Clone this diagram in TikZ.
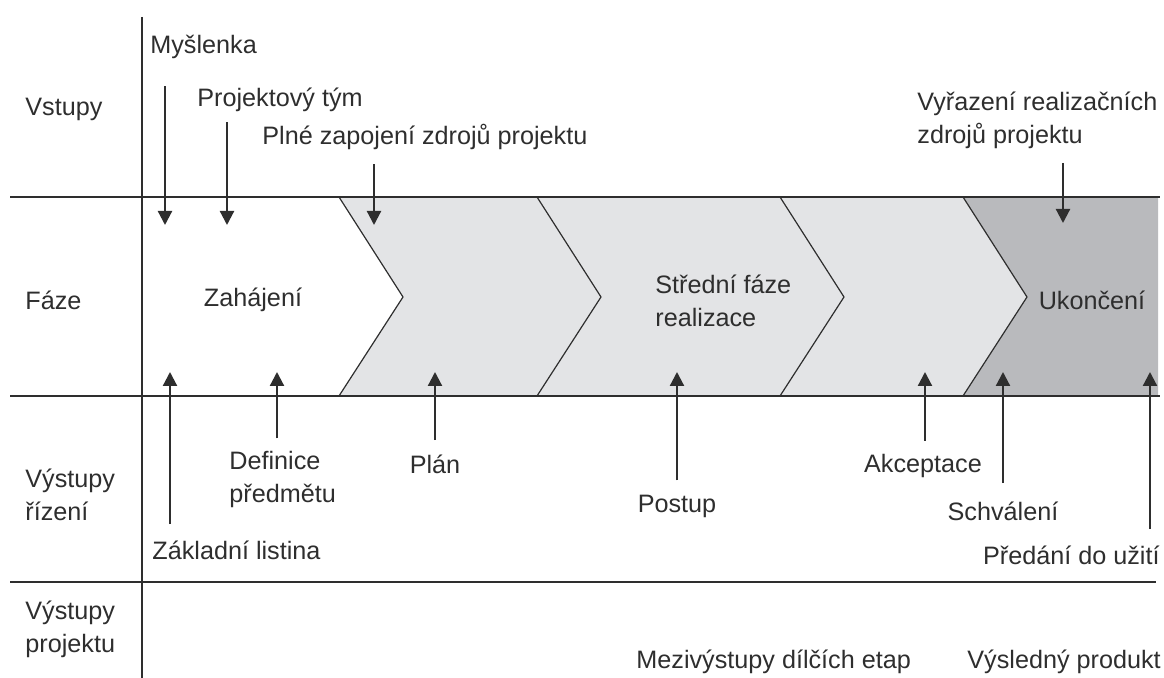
\documentclass[tikz,border=0pt]{standalone}
\usepackage{fontspec}
\setmainfont{Liberation Sans}
\usetikzlibrary{arrows.meta}

\definecolor{inkgray}{HTML}{2E2E2E}
\definecolor{phaselight}{HTML}{E3E4E6}
\definecolor{phasedark}{HTML}{B9BABD}

\begin{document}
\begin{tikzpicture}[x=0.5pt, y=-0.5pt,
		labeltext/.style={anchor=west, inner sep=0pt, align=left, text=inkgray, font=\fontsize{12.6}{16.5}\selectfont},
		centertext/.style={labeltext, anchor=center, align=center},
		mainline/.style={draw=inkgray, line width=1pt},
		chevedge/.style={draw=inkgray, line width=0.6pt},
		flow/.style={-{Triangle[width=7pt, length=7pt]}, draw=inkgray, line width=1.1pt}
	]
		\useasboundingbox (0,0) rectangle (1164,678);

		% phase band
		\fill[phaselight] (339,197) -- (963,197) -- (1027,297) -- (963,396) -- (339,396) -- (403,297) -- cycle;
		\fill[phasedark] (963,197) -- (1158,197) -- (1158,396) -- (963,396) -- (1027,297) -- cycle;
		\foreach \x in {339, 537, 780, 963}
			\draw[chevedge] (\x,197) -- (\x+64,297) -- (\x,396);

		% grid lines
		\draw[mainline] (10,197) -- (1160,197);
		\draw[mainline] (10,396) -- (1160,396);
		\draw[mainline] (10,582) -- (1156,582);
		\draw[mainline] (142,17) -- (142,678);

		% row titles
		\node[labeltext] (rowin) at (25,109) {Vstupy};
		\node[labeltext] (rowphase) at (25,300) {Fáze};
		\node[labeltext] (rowctrl) at (25,495) {Výstupy\\řízení};
		\node[labeltext] (rowprod) at (25,629) {Výstupy\\projektu};

		% phases
		\node[centertext] (start) at (253,300) {Zahájení};
		\node[labeltext] (middle) at (655,301) {Střední fáze\\realizace};
		\node[centertext] (finish) at (1092,300) {Ukončení};

		% inputs
		\node[labeltext] (idea) at (150,47) {Myšlenka};
		\node[labeltext] (team) at (197,100) {Projektový tým};
		\node[labeltext] (full) at (262,137) {Plné zapojení zdrojů projektu};
		\node[labeltext] (retire) at (917,120) {Vyřazení realizačních\\zdrojů projektu};
		\coordinate (ideain) at (165,225);
		\coordinate (teamin) at (227,225);
		\coordinate (fullin) at (374,225);
		\coordinate (retirein) at (1063,223);
		\draw[flow, shorten <=13.5pt] (idea.south -| ideain) -- (ideain);
		\draw[flow, shorten <=5pt] (team.south -| teamin) -- (teamin);
		\draw[flow, shorten <=7pt] (full.south -| fullin) -- (fullin);
		\draw[flow, shorten <=7pt] (retire.south -| retirein) -- (retirein);

		% control outputs
		\node[labeltext] (charter) at (152,550) {Základní listina};
		\node[labeltext] (scope) at (229,479) {Definice\\předmětu};
		\node[centertext] (plan) at (435,464) {Plán};
		\node[centertext] (method) at (677,506) {Postup};
		\node[centertext] (accept) at (923,466) {Akceptace};
		\node[centertext] (approve) at (1003,511) {Schválení};
		\node[labeltext, anchor=east] (handover) at (1160,555) {Předání do užití};
		\coordinate (charterout) at (170,372);
		\coordinate (scopeout) at (277,372);
		\coordinate (planout) at (435,372);
		\coordinate (methodout) at (677,372);
		\coordinate (acceptout) at (925,372);
		\coordinate (approveout) at (1003,372);
		\coordinate (handoverout) at (1150,372);
		\draw[flow, shorten <=8pt] (charter.north -| charterout) -- (charterout);
		\draw[flow, shorten <=6pt] (scope.north -| scopeout) -- (scopeout);
		\draw[flow, shorten <=7pt] (plan.north -| planout) -- (planout);
		\draw[flow, shorten <=7pt] (method.north -| methodout) -- (methodout);
		\draw[flow, shorten <=6.5pt] (accept.north -| acceptout) -- (acceptout);
		\draw[flow, shorten <=9pt] (approve.north -| approveout) -- (approveout);
		\draw[flow, shorten <=8pt] (handover.north -| handoverout) -- (handoverout);

		% project outputs
		\node[labeltext] (interim) at (636,662) {Mezivýstupy dílčích etap};
		\node[labeltext] (product) at (967,662) {Výsledný produkt};
	\end{tikzpicture}
\end{document}
